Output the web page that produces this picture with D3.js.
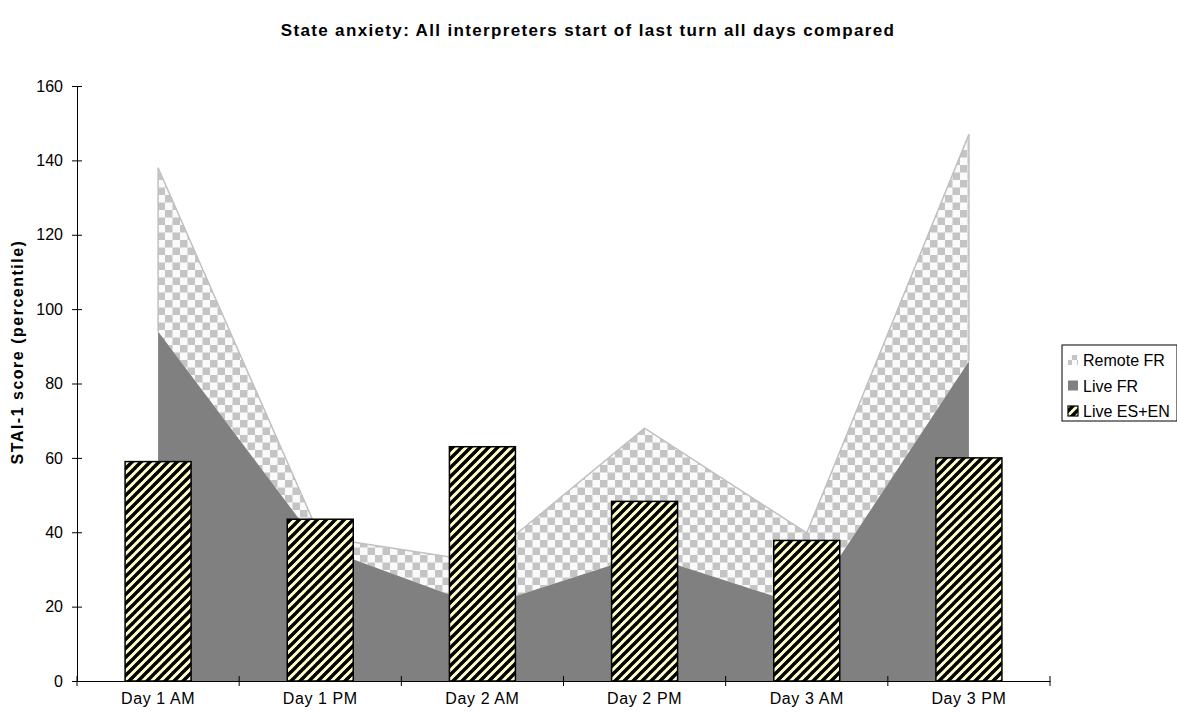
<!DOCTYPE html>
<html><head><meta charset="utf-8">
<script src="https://cdn.jsdelivr.net/npm/d3@7"></script>
<style>body{margin:0;background:#fff;font-family:"Liberation Sans",Arial,sans-serif}</style>
</head><body><svg id="c" width="1177" height="713"></svg>
<script>
const categories = ["Day 1 AM","Day 1 PM","Day 2 AM","Day 2 PM","Day 3 AM","Day 3 PM"];
const liveFR     = [94, 36, 20, 34, 20, 86];
const remoteFR   = [44, 2.7, 12, 34, 19.8, 61];
const liveESEN   = [59, 43.5, 63, 48.3, 37.8, 60];
const yTicks     = [0,20,40,60,80,100,120,140,160];
const seriesNames = ["Remote FR","Live FR","Live ES+EN"];

const svg = d3.select("#c");
const defs = svg.append("defs");
function checker(id, s){
  const p = defs.append("pattern").attr("id",id).attr("patternUnits","userSpaceOnUse")
    .attr("width",2*s).attr("height",2*s);
  p.append("rect").attr("width",2*s).attr("height",2*s).attr("fill","#fafafa");
  p.append("rect").attr("width",s).attr("height",s).attr("fill","#c4c4c4");
  p.append("rect").attr("x",s).attr("y",s).attr("width",s).attr("height",s).attr("fill","#c4c4c4");
}
checker("chk",7.5);
checker("chkS",5);
const str = defs.append("pattern").attr("id","str").attr("patternUnits","userSpaceOnUse")
  .attr("width",9).attr("height",9);
str.append("rect").attr("width",9).attr("height",9).attr("fill","#ffffcc");
[[-1,1,1,-1],[0,9,9,0],[8,10,10,8]].forEach(l=>str.append("line")
  .attr("x1",l[0]).attr("y1",l[1]).attr("x2",l[2]).attr("y2",l[3])
  .attr("stroke","#000").attr("stroke-width",3.4));

const pLeft=77, pRight=1050, pTop=86, pBottom=681;
const x = d3.scaleBand().domain(categories).range([pLeft,pRight]).padding(0);
const y = d3.scaleLinear().domain([0,160]).range([pBottom,pTop]);

const rows = categories.map((c,i)=>({cat:c, live:liveFR[i], remote:remoteFR[i]}));
const stack = d3.stack().keys(["live","remote"])(rows);
const cx = d=>x(d.data.cat)+x.bandwidth()/2;
const area = d3.area().x(cx).y0(d=>y(d[0])).y1(d=>y(d[1]));
const topLine = d3.line().x(cx).y(d=>y(d[1]));

svg.append("path").attr("d",area(stack[1])).attr("fill","url(#chk)");
svg.append("path").attr("d",topLine(stack[1])).attr("fill","none").attr("stroke","#c0c0c0").attr("stroke-width",1.5);
const s1=stack[1];
[0,5].forEach(i=>svg.append("line").attr("x1",cx(s1[i])).attr("x2",cx(s1[i]))
  .attr("y1",y(s1[i][0])).attr("y2",y(s1[i][1])).attr("stroke","#c0c0c0").attr("stroke-width",1.5));
svg.append("path").attr("d",area(stack[0])).attr("fill","#808080");

const bw = 66;
svg.selectAll("rect.bar").data(categories).join("rect").attr("class","bar")
  .attr("x",c=>x(c)+x.bandwidth()/2-bw/2).attr("width",bw)
  .attr("y",(c,i)=>y(liveESEN[i])).attr("height",(c,i)=>y(0)-y(liveESEN[i]))
  .attr("fill","url(#str)").attr("stroke","#000").attr("stroke-width",1.5);

const yAxis = d3.axisLeft(y).tickValues(yTicks).tickSizeInner(5).tickSizeOuter(0).tickPadding(9);
const gy = svg.append("g").attr("transform",`translate(${pLeft},0)`).call(yAxis);
gy.selectAll(".tick line").attr("x2",5).attr("x1",-5);
gy.selectAll("text").attr("font-size",16).attr("font-family","Liberation Sans, Arial").attr("fill","#000");
gy.select(".domain").attr("stroke","#000");

const xb = d3.scaleLinear().domain([0,6]).range([pLeft,pRight]);
const gx = svg.append("g").attr("transform",`translate(0,${pBottom})`)
  .call(d3.axisBottom(x).tickSize(0).tickPadding(12));
gx.selectAll("text").attr("font-size",16).attr("letter-spacing",0.6).attr("font-family","Liberation Sans, Arial").attr("fill","#000");
gx.select(".domain").attr("stroke","#000");
gx.selectAll("line.bt").data(d3.range(7)).join("line").attr("class","bt")
  .attr("x1",d=>xb(d)).attr("x2",d=>xb(d)).attr("y1",-5).attr("y2",5).attr("stroke","#000");

svg.append("text").attr("x",588).attr("y",36).attr("text-anchor","middle")
  .attr("font-size",17).attr("letter-spacing",1.35).attr("font-weight","bold").text("State anxiety: All interpreters start of last turn all days compared");
svg.append("text").attr("transform","translate(23,352) rotate(-90)").attr("text-anchor","middle")
  .attr("font-size",16).attr("letter-spacing",1.5).attr("font-weight","bold").text("STAI-1 score (percentile)");

const lg = svg.append("g").attr("transform","translate(1062,345)");
lg.append("rect").attr("width",115).attr("height",76).attr("fill","#fff").attr("stroke","#000").attr("stroke-width",1);
const fills=["url(#chkS)","#808080","url(#str)"];
seriesNames.forEach((n,i)=>{
  const yy = 15 + i*25.5;
  lg.append("rect").attr("x",6).attr("y",yy-5).attr("width",10).attr("height",10).attr("fill",fills[i])
    .attr("stroke",i==2?"#000":"none").attr("stroke-width",1.2);
  lg.append("text").attr("x",21).attr("y",yy+6).attr("font-size",16).text(n);
});
</script></body></html>
